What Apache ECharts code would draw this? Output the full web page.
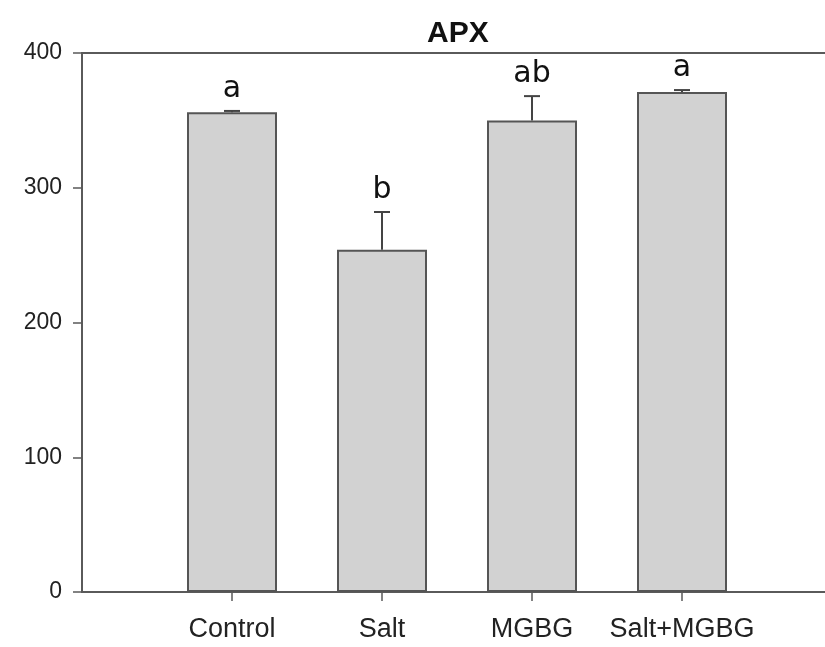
<!DOCTYPE html>
<html>
<head>
<meta charset="utf-8">
<script src="https://cdn.jsdelivr.net/npm/echarts@6/dist/echarts.min.js"></script>
<style>
  html, body { margin: 0; padding: 0; background: #fff; }
  #chart { width: 825px; height: 647px; }
</style>
</head>
<body>
<div id="chart"></div>
<script>
// data
var categories = ['Control', 'Salt', 'MGBG', 'Salt+MGBG'];
var means = [356, 254, 350, 371];
var errors = [1, 28, 18, 1.5];
var letters = ['a', 'b', 'ab', 'a'];
var yTicks = [0, 100, 200, 300, 400];

// pad the category axis with an empty slot on each side
var xData = [''].concat(categories, ['']);
var barData = ['-'].concat(means, ['-']);
var errData = categories.map(function (c, i) {
    return [i + 1, means[i], errors[i], letters[i]];
});

var lineColor = '#5a5a5a';

var myChart = echarts.init(document.getElementById('chart'));
myChart.setOption({
    animation: false,
    title: {
        text: 'APX',
        left: 422,
        top: 14,
        textStyle: { fontFamily: 'Liberation Sans', fontSize: 30, fontWeight: 'bold', color: '#111' }
    },
    grid: {
        left: 82, top: 53, height: 539, width: 750,
        outerBoundsMode: 'none',
        show: true, borderColor: lineColor, borderWidth: 2, backgroundColor: 'transparent'
    },
    xAxis: {
        type: 'category',
        data: xData,
        boundaryGap: false,
        axisLine: { lineStyle: { color: lineColor, width: 2 } },
        axisTick: {
            inside: false, length: 9,
            interval: function (idx) { return idx >= 1 && idx <= categories.length; },
            lineStyle: { color: lineColor, width: 1.5 }
        },
        axisLabel: {
            margin: 24,
            interval: 0,
            fontFamily: 'Liberation Sans', fontSize: 27, color: '#222'
        },
        splitLine: { show: false }
    },
    yAxis: {
        type: 'value',
        min: yTicks[0],
        max: yTicks[yTicks.length - 1],
        interval: 100,
        axisLine: { show: true, lineStyle: { color: lineColor, width: 2 } },
        axisTick: { show: true, inside: false, length: 9, lineStyle: { color: lineColor, width: 1.5 } },
        axisLabel: { margin: 20, fontFamily: 'Liberation Sans', fontSize: 23, color: '#222' },
        splitLine: { show: false }
    },
    series: [{
        type: 'bar',
        data: barData,
        barWidth: 90,
        itemStyle: { color: '#d2d2d2', borderColor: '#555', borderWidth: 2 },
        z: 2
    }, {
        type: 'custom',
        data: errData,
        z: 3,
        renderItem: function (params, api) {
            var x = api.value(0);
            var m = api.value(1);
            var e = api.value(2);
            var base = api.coord([x, m]);
            var top = api.coord([x, m + e]);
            var cap = 8;
            return {
                type: 'group',
                children: [{
                    type: 'line',
                    shape: { x1: base[0], y1: base[1], x2: top[0], y2: top[1] },
                    style: { stroke: '#444', lineWidth: 2 }
                }, {
                    type: 'line',
                    shape: { x1: top[0] - cap, y1: top[1], x2: top[0] + cap, y2: top[1] },
                    style: { stroke: '#444', lineWidth: 2 }
                }, {
                    type: 'text',
                    style: {
                        text: letters[params.dataIndex],
                        x: top[0], y: top[1] - 7,
                        textAlign: 'center', textVerticalAlign: 'bottom',
                        fontFamily: 'DejaVu Sans', fontSize: 30, fill: '#111'
                    }
                }]
            };
        }
    }]
});
</script>
</body>
</html>
